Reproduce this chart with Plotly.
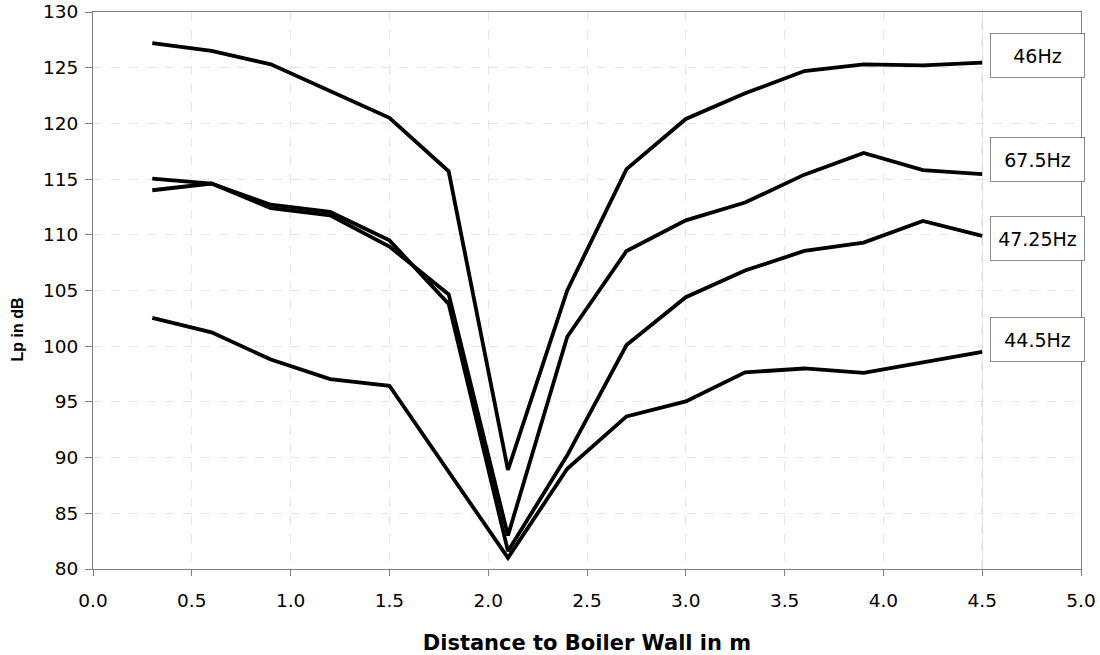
import plotly.graph_objects as go

distance_m = [0.3, 0.6, 0.9, 1.2, 1.5, 1.8, 2.1, 2.4, 2.7, 3.0, 3.3, 3.6, 3.9, 4.2, 4.5]

lp_46hz = [127.2, 126.5, 125.3, 122.9, 120.5, 115.7, 88.9, 105.0, 115.9, 120.4, 122.7, 124.7, 125.3, 125.2, 125.45]
lp_67_5hz = [114.0, 114.6, 112.4, 111.75, 108.95, 104.65, 83.0, 100.85, 108.55, 111.3, 112.9, 115.4, 117.35, 115.8, 115.45]
lp_47_25hz = [115.05, 114.6, 112.7, 112.05, 109.5, 103.8, 81.6, 90.2, 100.1, 104.4, 106.8, 108.55, 109.3, 111.25, 109.9]
lp_44_5hz = [102.55, 101.25, 98.8, 97.05, 96.45, 88.7, 81.0, 89.0, 93.7, 95.05, 97.65, 98.0, 97.6, 98.55, 99.5]

series_names = ["46Hz", "67.5Hz", "47.25Hz", "44.5Hz"]
series_values = [lp_46hz, lp_67_5hz, lp_47_25hz, lp_44_5hz]
label_y = [126.1, 116.75, 109.7, 100.6]

x_ticks = [0.0, 0.5, 1.0, 1.5, 2.0, 2.5, 3.0, 3.5, 4.0, 4.5, 5.0]
y_ticks = [80, 85, 90, 95, 100, 105, 110, 115, 120, 125, 130]

WIDE = "DejaVu Sans, sans-serif"
ARIAL = "Arial, Liberation Sans, sans-serif"

fig = go.Figure()
for name, vals in zip(series_names, series_values):
    fig.add_trace(go.Scatter(
        x=distance_m, y=vals, mode="lines", name=name,
        line=dict(color="black", width=3.8),
        showlegend=False, hoverinfo="x+y+name",
    ))

for name, ly in zip(series_names, label_y):
    fig.add_annotation(
        x=distance_m[-1], y=ly, xref="x", yref="y",
        text=name, showarrow=False, xanchor="left", yanchor="middle",
        xshift=8, width=89, height=39, borderpad=2,
        bordercolor="#8c8c8c", borderwidth=1, bgcolor="white",
        font=dict(family=WIDE, size=19, color="black"),
    )

# y axis title (placed like the original, slightly below centre)
fig.add_annotation(
    x=-0.076, y=0.43, xref="paper", yref="paper",
    text="<b>Lp in dB</b>", showarrow=False, textangle=-90,
    xanchor="center", yanchor="middle",
    font=dict(family=ARIAL, size=16, color="black"),
)

# darker dashed drop line at x = 4.5
fig.add_shape(type="line", x0=4.5, x1=4.5, y0=80, y1=130, xref="x", yref="y",
              line=dict(color="#c8c8c8", width=1, dash="dash"), layer="below")

fig.update_layout(
    width=1100, height=655,
    margin=dict(l=93, r=19, t=12, b=86),
    paper_bgcolor="white", plot_bgcolor="white",
    font=dict(family=WIDE, size=18, color="black"),
)
fig.update_xaxes(
    automargin=False,
    range=[0, 5], tickvals=x_ticks, ticktext=[f"{v:.1f}" for v in x_ticks],
    tickfont=dict(family=WIDE, size=18.5, color="black"),
    ticklabelstandoff=9,
    showline=True, linecolor="#808080", linewidth=1, mirror=True,
    ticks="outside", ticklen=6, tickcolor="#808080",
    showgrid=True, gridcolor="#e6e6e6", griddash="dash", gridwidth=1,
    zeroline=False,
    title=dict(text="<b>Distance to Boiler Wall in m</b>", standoff=25,
               font=dict(family=WIDE, size=21, color="black")),
)
fig.update_yaxes(
    automargin=False,
    range=[80, 130], tickvals=y_ticks,
    tickfont=dict(family=WIDE, size=18.5, color="black"),
    ticklabelstandoff=3,
    showline=True, linecolor="#808080", linewidth=1, mirror=True,
    ticks="outside", ticklen=7, tickcolor="#808080",
    showgrid=True, gridcolor="#e6e6e6", griddash="dash", gridwidth=1,
    zeroline=False,
)

fig.write_html("out.html", config={"displayModeBar": False},
               post_script="document.body.style.margin='0';")
